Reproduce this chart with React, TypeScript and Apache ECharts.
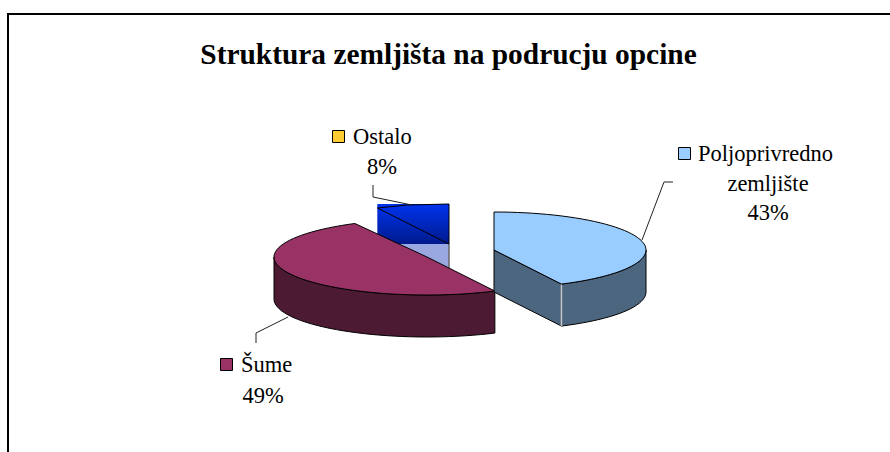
import React, { useEffect, useRef } from "react";
import * as echarts from "echarts";

const titleText = "Struktura zemljišta na podrucju opcine";
const categories = ["Poljoprivredno zemljište", "Šume", "Ostalo"];
const shares = [42.6, 49.4, 7.8];
const topColors = ["#99ccff", "#993366", "#0033ee"];
const sideColors = ["#4d6680", "#4d1a33", "#99a8e0"];
const keyColors = ["#99ccff", "#993366", "#ffcc33"];
const drawOrder = [2, 1, 0];

const FONT = '"Liberation Serif", "Times New Roman", serif';
const sliceLayout = [
  { cx: 494, cy: 250, rx: 152, ry: 38 },
  { cx: 427, cy: 257, rx: 153, ry: 38 },
  { cx: 449, cy: 244, rx: 152, ry: 38 },
];
const DEPTH = 42;
const labelLayout = [
  { key: [678, 147], lines: [[698, 153, "left"], [768, 183, "center"]], pct: [768, 212], leader: [[642, 240], [664, 182], [673, 182]] },
  { key: [220, 358], lines: [[241, 364, "left"]], pct: [263, 395], leader: [[288, 317], [256, 333], [256, 343]] },
  { key: [332, 130], lines: [[353, 136, "left"]], pct: [382, 166], leader: [[412, 205], [373, 197], [373, 185]] },
];
const labelLines = [["Poljoprivredno", "zemljište"], ["Šume"], ["Ostalo"]];

const total = shares.reduce((a, b) => a + b, 0);
const starts = shares.map((_, i) => (shares.slice(0, i).reduce((a, b) => a + b, 0) / total) * 360);
const ends = shares.map((v, i) => starts[i] + (v / total) * 360);

function rimPoint(i: number, deg: number, dy = 0) {
  const { cx, cy, rx, ry } = sliceLayout[i];
  const a = (deg * Math.PI) / 180;
  return [cx + Math.sin(a) * rx, cy - Math.cos(a) * ry + dy];
}
function arc(i: number, from: number, to: number, dy = 0) {
  const pts = [];
  const n = Math.max(2, Math.ceil(Math.abs(to - from) / 3));
  for (let k = 0; k <= n; k++) pts.push(rimPoint(i, from + ((to - from) * k) / n, dy));
  return pts;
}
const line = { stroke: "#000", lineWidth: 1 };

function renderSlice(_: any, api: any) {
  const i = drawOrder[api.value(0)];
  const { cx, cy } = sliceLayout[i];
  const s = starts[i];
  const e = ends[i];
  const children: any[] = [];
  const top = [[cx, cy], ...arc(i, s, e)];
  if (i === 2) {
    const xs = top.map((p) => p[0]);
    const ys = top.map((p) => p[1]);
    const x0 = Math.min(...xs);
    const x1 = Math.max(...xs);
    const y0 = Math.min(...ys) - 2;
    const y1 = Math.max(...ys);
    children.push({
      type: "rect",
      shape: { x: x0, y: y1, width: x1 - x0, height: DEPTH },
      style: { fill: sideColors[i] },
    });
    children.push({
      type: "line",
      shape: { x1, y1, x2: x1, y2: y1 + DEPTH },
      style: { stroke: "#666", lineWidth: 1.5 },
    });
    children.push({
      type: "rect",
      shape: { x: x0, y: y0, width: x1 - x0, height: y1 - y0 },
      style: {
        fill: new echarts.graphic.LinearGradient(0, 0, 0, 1, [
          { offset: 0, color: "#0033ee" },
          { offset: 1, color: "#001a8c" },
        ]),
      },
    });
    children.push({
      type: "polyline",
      shape: { points: [[x1, y0], [x1, y1], [x0, y0 + 4], [x0 + 30, y0 + 1], [x1, y0]] },
      style: { fill: "none", ...line },
    });
  } else {
    const sideFrom = Math.max(s, 90);
    const sideTo = Math.min(e, 270);
    children.push({
      type: "polygon",
      shape: { points: [...arc(i, sideFrom, sideTo), ...arc(i, sideTo, sideFrom, DEPTH)] },
      style: { fill: sideColors[i], ...line },
    });
    if (i === 0) {
      const p = rimPoint(i, e);
      children.push({
        type: "polygon",
        shape: { points: [[cx, cy], p, [p[0], p[1] + DEPTH], [cx, cy + DEPTH]] },
        style: { fill: sideColors[i], ...line },
      });
      children.push({
        type: "line",
        shape: { x1: p[0], y1: p[1], x2: p[0], y2: p[1] + DEPTH },
        style: { stroke: "#c8c8c8", lineWidth: 1.5 },
      });
    }
    children.push({
      type: "polygon",
      shape: { points: top },
      style: { fill: topColors[i], ...line },
    });
  }
  return { type: "group", children };
}

const textStyle = (x: number, y: number, text: string, align: string) => ({
  type: "text",
  x,
  y,
  style: { text, x: 0, y: 0, align, verticalAlign: "middle", fill: "#000", font: `22.5px ${FONT}` },
});

export default function App() {
  const ref = useRef<HTMLDivElement>(null);
  useEffect(() => {
    const chart = echarts.init(ref.current!, null, { renderer: "svg" });
    const elements: any[] = [
      { type: "line", shape: { x1: 8, y1: 14, x2: 890, y2: 14 }, style: { stroke: "#000", lineWidth: 2 } },
      { type: "line", shape: { x1: 8, y1: 13, x2: 8, y2: 452 }, style: { stroke: "#000", lineWidth: 2 } },
    ];
    labelLayout.forEach((l, i) => {
      elements.push({
        type: "polyline",
        z: 10,
        shape: { points: l.leader },
        style: { fill: "none", stroke: "#222", lineWidth: 1 },
      });
      elements.push({
        type: "rect",
        z: 10,
        shape: { x: l.key[0] + 0.5, y: l.key[1] + 0.5, width: 12, height: 12 },
        style: { fill: keyColors[i], stroke: "#000", lineWidth: 1 },
      });
      l.lines.forEach((t: any, k) => {
        elements.push({ ...textStyle(t[0], t[1], labelLines[i][k], t[2]), z: 10 });
      });
      elements.push({ ...textStyle(l.pct[0], l.pct[1], `${Math.round(shares[i])}%`, "center"), z: 10 });
    });
    chart.setOption({
      animation: false,
      backgroundColor: "#fff",
      title: {
        text: titleText,
        left: 443.5,
        top: 34,
        textAlign: "center",
        textStyle: { fontFamily: FONT, fontWeight: "bold", fontSize: 29.4, color: "#000" },
      },
      graphic: { elements },
      series: [
        {
          type: "custom",
          coordinateSystem: "none",
          silent: true,
          clip: false,
          renderItem: renderSlice,
          data: drawOrder.map((c, order) => ({ name: categories[c], value: [order, shares[c]] })),
          encode: { value: 1 },
        },
      ],
    });
    return () => chart.dispose();
  }, []);
  return <div ref={ref} style={{ position: "absolute", left: 0, top: 0, width: 890, height: 452 }} />;
}
